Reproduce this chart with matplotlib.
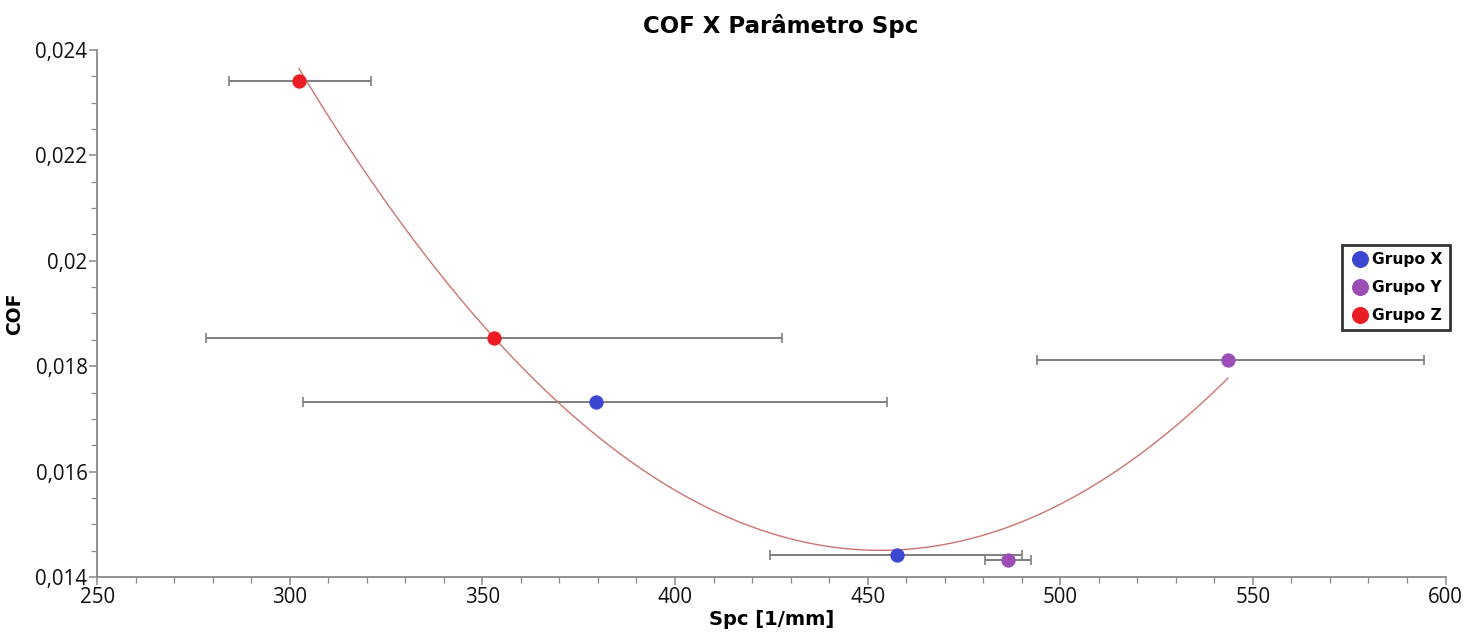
import numpy as np
import matplotlib
matplotlib.use("Agg")
import matplotlib.pyplot as plt
from matplotlib.ticker import MultipleLocator, FuncFormatter

# Spc [1/mm] vs COF per group, with horizontal spread of Spc
groups = ["Grupo X", "Grupo Y", "Grupo Z"]
colors = ["#3B47D0", "#9B4DB5", "#EC1C24"]

spc_x = [379.5, 457.5]
cof_x = [0.01732, 0.01442]
lo_x = [303.5, 424.7]
hi_x = [455.0, 490.0]

spc_y = [543.5, 486.4]
cof_y = [0.01811, 0.01432]
lo_y = [494.0, 480.5]
hi_y = [594.5, 492.5]

spc_z = [302.4, 353.0]
cof_z = [0.02341, 0.01853]
lo_z = [284.3, 278.3]
hi_z = [321.1, 427.8]

series = [
    (spc_x, cof_x, lo_x, hi_x),
    (spc_y, cof_y, lo_y, hi_y),
    (spc_z, cof_z, lo_z, hi_z),
]

plt.rcParams["font.family"] = ["Open Sans", "DejaVu Sans"]

fig = plt.figure(figsize=(14.72, 6.33), dpi=100)
ax = fig.add_axes([0.066, 0.0885, 0.916, 0.8325])

for name, col, (xs, ys, lo, hi) in zip(groups, colors, series):
    xs = np.array(xs)
    xerr = np.vstack([xs - np.array(lo), np.array(hi) - xs])
    ax.errorbar(xs, ys, xerr=xerr, fmt="none", ecolor="#7f7f7f",
                elinewidth=1.4, capsize=3.5, capthick=1.2, zorder=2)
    ax.plot(xs, ys, "o", color=col, markersize=9.5,
            markeredgecolor=col, markeredgewidth=0.8, label=name,
            zorder=4)

# second-order trend through all points
all_x = np.array(spc_x + spc_y + spc_z)
all_y = np.array(cof_x + cof_y + cof_z)
coef = np.polyfit(all_x, all_y, 2)
xx = np.linspace(all_x.min(), all_x.max(), 300)
ax.plot(xx, np.polyval(coef, xx), color="#CC7470", lw=1.0, zorder=3)

ax.set_xlim(250, 600)
ax.set_ylim(0.014, 0.024)
ax.xaxis.set_major_locator(MultipleLocator(50))
ax.xaxis.set_minor_locator(MultipleLocator(10))
ax.yaxis.set_major_locator(MultipleLocator(0.002))
ax.yaxis.set_minor_locator(MultipleLocator(0.0005))
ax.yaxis.set_major_formatter(FuncFormatter(lambda v, p: f"{v:g}".replace(".", ",")))
ax.xaxis.set_major_formatter(FuncFormatter(lambda v, p: f"{v:g}"))

for s in ["top", "right"]:
    ax.spines[s].set_visible(False)
for s in ["left", "bottom"]:
    ax.spines[s].set_color("#8a8a8a")
    ax.spines[s].set_linewidth(1.3)
ax.tick_params(which="major", length=6, width=1.1, color="#8a8a8a",
               labelsize=14.8, labelcolor="#111111", pad=1)
ax.tick_params(which="minor", length=4, width=0.9, color="#8a8a8a")

bold = {"family": ["DejaVu Sans"], "weight": "bold"}
ax.set_title("COF X Parâmetro Spc", fontsize=16.5, pad=12, fontdict=bold)
ax.title.set_x(0.507)
ax.set_xlabel("Spc [1/mm]", fontsize=14, labelpad=2, fontdict=bold)
ax.set_ylabel("COF", fontsize=13.5, labelpad=8, fontdict=bold)

leg = ax.legend(loc="upper right", bbox_to_anchor=(1.003, 0.63),
                frameon=True, fancybox=False, handletextpad=0.0,
                handlelength=1.5, borderpad=0.45, labelspacing=0.85,
                prop={"family": ["DejaVu Sans"], "weight": "bold", "size": 11.2},
                markerscale=1.2, borderaxespad=0)
leg.get_frame().set_edgecolor("black")
leg.get_frame().set_linewidth(2)

fig.savefig("out.png", dpi=100)
